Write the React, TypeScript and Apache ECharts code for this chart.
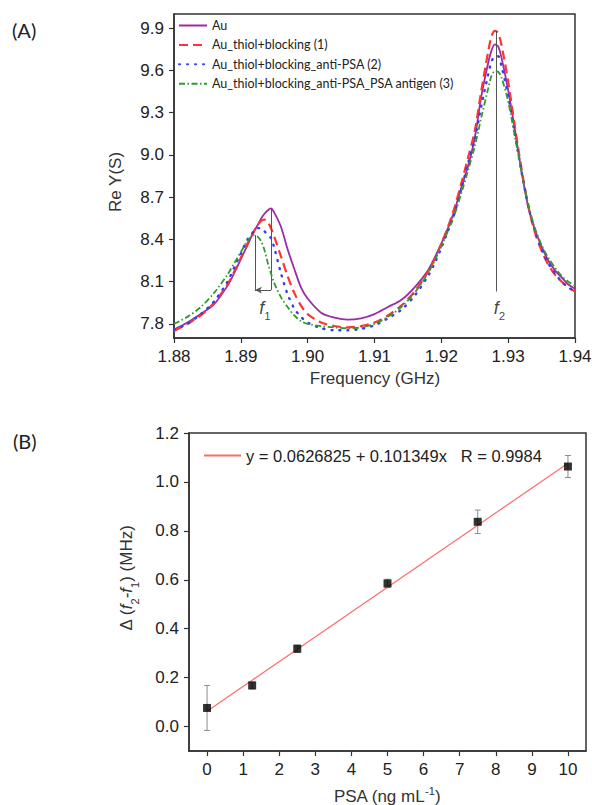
import React, { useEffect, useRef } from 'react';
import * as echarts from 'echarts';

// ---------- Panel (A) data ----------
const freqGHz = [
  1.88, 1.882, 1.884, 1.886, 1.888, 1.889, 1.89, 1.891, 1.892, 1.8925,
  1.893, 1.8935, 1.894, 1.8945, 1.895, 1.896, 1.897, 1.898, 1.899, 1.9,
  1.902, 1.904, 1.906, 1.908, 1.91, 1.912, 1.914, 1.916, 1.918, 1.919,
  1.92, 1.921, 1.922, 1.923, 1.924, 1.925, 1.926, 1.927, 1.9275, 1.928,
  1.9285, 1.929, 1.93, 1.931, 1.932, 1.933, 1.934, 1.935, 1.936, 1.937,
  1.938, 1.939, 1.94,
];
const auRe = [
  7.76, 7.81, 7.87, 7.94, 8.07, 8.16, 8.26, 8.36, 8.46, 8.5,
  8.545, 8.58, 8.605, 8.62, 8.59, 8.49, 8.33, 8.19, 8.06, 7.98,
  7.88, 7.845, 7.83, 7.84, 7.87, 7.92, 7.97, 8.06, 8.18, 8.27,
  8.37, 8.48, 8.61, 8.77, 8.92, 9.12, 9.42, 9.65, 9.74, 9.785,
  9.77, 9.69, 9.46, 9.18, 8.88, 8.63, 8.47, 8.35, 8.25, 8.18,
  8.13, 8.08, 8.05,
];
const thiolRe = [
  7.75, 7.8, 7.86, 7.95, 8.08, 8.17, 8.27, 8.37, 8.46, 8.5,
  8.53, 8.54, 8.525, 8.48, 8.42, 8.28, 8.14, 8.02, 7.93, 7.87,
  7.81, 7.785, 7.775, 7.785, 7.81, 7.86, 7.93, 8.03, 8.17, 8.26,
  8.37, 8.49, 8.63, 8.8, 8.98, 9.17, 9.46, 9.73, 9.84, 9.88,
  9.865, 9.78, 9.52, 9.2, 8.9, 8.64, 8.45, 8.32, 8.22, 8.15,
  8.1, 8.06, 8.03,
];
const antiPsaRe = [
  7.76, 7.8, 7.87, 7.96, 8.1, 8.2, 8.3, 8.4, 8.46, 8.48,
  8.48, 8.46, 8.43, 8.41, 8.34, 8.16, 8.01, 7.91, 7.85, 7.81,
  7.77, 7.755, 7.755, 7.765, 7.79, 7.84, 7.9, 8.0, 8.14, 8.23,
  8.34, 8.46, 8.59, 8.76, 8.94, 9.11, 9.35, 9.57, 9.66, 9.7,
  9.7, 9.63, 9.42, 9.15, 8.88, 8.64, 8.46, 8.33, 8.23, 8.16,
  8.1, 8.06, 8.03,
];
const antigenRe = [
  7.8, 7.85, 7.92, 8.02, 8.15, 8.23, 8.31, 8.39, 8.43, 8.42,
  8.39, 8.33, 8.24, 8.16, 8.09, 7.99, 7.92, 7.86, 7.82, 7.8,
  7.785, 7.775, 7.77, 7.775, 7.8, 7.85, 7.92, 8.02, 8.16, 8.25,
  8.35, 8.46, 8.58, 8.73, 8.89, 9.06, 9.27, 9.47, 9.56, 9.595,
  9.59, 9.55, 9.38, 9.13, 8.88, 8.65, 8.48, 8.36, 8.27, 8.2,
  8.14, 8.1, 8.07,
];
const seriesNamesA = [
  'Au',
  'Au_thiol+blocking (1)',
  'Au_thiol+blocking_anti-PSA (2)',
  'Au_thiol+blocking_anti-PSA_PSA antigen (3)',
];
const xTicksA = [1.88, 1.89, 1.9, 1.91, 1.92, 1.93, 1.94];
const yTicksA = [7.8, 8.1, 8.4, 8.7, 9.0, 9.3, 9.6, 9.9];
// annotation (peak markers)
const f1Left = 1.8921;
const f1Right = 1.8945;
const f1LeftTop = 8.43;
const f1RightTop = 8.62;
const bracketY = 8.04;
const f2Pos = 1.9282;
const f2Top = 9.88;
const f2Bottom = 8.03;
const peakLabels = [
  [1.8936, 7.898, '1'],
  [1.9287, 7.898, '2'],
];

// ---------- Panel (B) data ----------
const psaConc = [0, 1.25, 2.5, 5, 7.5, 10];
const deltaF = [0.076, 0.168, 0.318, 0.585, 0.837, 1.063];
const deltaErr = [0.092, 0.014, 0.015, 0.017, 0.048, 0.045];
const fitX = [0, 10];
const fitY = [0.0627, 1.0762];
const fitName = 'y = 0.0626825 + 0.101349x\u00a0\u00a0\u00a0R = 0.9984';
const xTicksB = [0, 1, 2, 3, 4, 5, 6, 7, 8, 9, 10];
const yTicksB = [0, 0.2, 0.4, 0.6, 0.8, 1.0, 1.2];

const zip = (xs: number[], ys: number[]) => xs.map((x, i) => [x, ys[i]]);

const SANS = '"Liberation Sans", Arial, sans-serif';
const AXIS_COLOR = '#333';
const TEXT_COLOR = '#222';
const NO_SYMBOL = { color: 'rgba(0,0,0,0)', borderColor: 'rgba(0,0,0,0)', borderWidth: 0 };

function valueAxis(gridIndex: number, min: number, max: number, ticks: number[], fmt: (v: number) => string) {
  return {
    gridIndex,
    type: 'value',
    min,
    max,
    axisLine: { show: true, onZero: false, lineStyle: { color: AXIS_COLOR, width: 1.5 } },
    axisTick: { show: true, inside: false, length: 5, customValues: ticks, lineStyle: { color: AXIS_COLOR, width: 1.2 } },
    axisLabel: { customValues: ticks, formatter: fmt, margin: 10, fontFamily: SANS, fontSize: 17, color: TEXT_COLOR },
    splitLine: { show: false },
  };
}

function buildOption() {
  const curveColors = ['#9a2ca6', '#ff3333', '#3340ee', '#2f9a2f'];
  const curveStyles: any[] = [
    { width: 1.8, type: 'solid' },
    { width: 2.2, type: [9, 5] },
    { width: 2.4, type: [1, 7], cap: 'round' },
    { width: 1.8, type: [6, 2.5, 1.5, 2.5] },
  ];
  const curveData = [auRe, thiolRe, antiPsaRe, antigenRe];

  const curveSeries = curveData.map((ys, i) => ({
    name: seriesNamesA[i],
    type: 'line',
    xAxisIndex: 0,
    yAxisIndex: 0,
    data: zip(freqGHz, ys),
    symbol: 'none',
    showSymbol: false,
    smooth: 0.3,
    z: 3 + i,
    lineStyle: { color: curveColors[i], ...curveStyles[i] },
    itemStyle: { color: curveColors[i] },
    emphasis: { disabled: true },
  }));

  const subRich = {
    f: { fontFamily: SANS, fontSize: 18, fontStyle: 'italic', color: '#111', verticalAlign: 'top', lineHeight: 18 },
    s: { fontFamily: SANS, fontSize: 11.5, color: '#111', verticalAlign: 'bottom', lineHeight: 23 },
  };

  const annotationSeries = {
    name: 'peaks',
    type: 'scatter',
    xAxisIndex: 0,
    yAxisIndex: 0,
    data: peakLabels.map((p) => ({ value: [p[0], p[1]], sub: p[2] })),
    symbolSize: 2,
    itemStyle: NO_SYMBOL,
    silent: true,
    z: 10,
    label: {
      show: true,
      position: 'inside',
      color: '#111',
      formatter: (p: any) => `{f|f}{s|${p.data.sub}}`,
      rich: subRich,
    },
    markLine: {
      silent: true,
      symbol: ['none', 'none'],
      label: { show: false },
      lineStyle: { color: '#555', width: 1, type: 'solid' },
      emphasis: { disabled: true },
      data: [
        [{ coord: [f1Left, f1LeftTop] }, { coord: [f1Left, bracketY] }],
        [{ coord: [f1Right, f1RightTop] }, { coord: [f1Right, bracketY] }],
        [{ coord: [f1Right, bracketY] }, { coord: [f1Left, bracketY], symbol: 'arrow', symbolSize: [5, 7] }],
        [{ coord: [f2Pos, f2Top] }, { coord: [f2Pos, f2Bottom] }],
      ],
    },
  };

  const fitSeries = {
    name: fitName,
    type: 'line',
    xAxisIndex: 1,
    yAxisIndex: 1,
    data: zip(fitX, fitY),
    symbol: 'none',
    showSymbol: false,
    z: 3,
    lineStyle: { color: '#ff6b6b', width: 1.2 },
    itemStyle: { color: '#ff6b6b' },
    emphasis: { disabled: true },
  };

  const errorSeries = {
    name: 'error',
    type: 'custom',
    xAxisIndex: 1,
    yAxisIndex: 1,
    data: psaConc.map((x, i) => [x, deltaF[i], deltaErr[i]]),
    encode: { x: 0, y: 1 },
    z: 2,
    silent: true,
    renderItem: (_params: any, api: any) => {
      const x = api.value(0);
      const y = api.value(1);
      const e = api.value(2);
      const hi = api.coord([x, y + e]);
      const lo = api.coord([x, y - e]);
      const w = 3;
      const style = { stroke: '#8c8c8c', lineWidth: 1 };
      return {
        type: 'group',
        children: [
          { type: 'line', shape: { x1: hi[0], y1: hi[1], x2: lo[0], y2: lo[1] }, style },
          { type: 'line', shape: { x1: hi[0] - w, y1: hi[1], x2: hi[0] + w, y2: hi[1] }, style },
          { type: 'line', shape: { x1: lo[0] - w, y1: lo[1], x2: lo[0] + w, y2: lo[1] }, style },
        ],
      };
    },
  };

  const pointSeries = {
    name: 'data',
    type: 'scatter',
    xAxisIndex: 1,
    yAxisIndex: 1,
    data: zip(psaConc, deltaF),
    symbol: 'rect',
    symbolSize: 8,
    z: 5,
    itemStyle: { color: '#000' },
    emphasis: { disabled: true },
  };

  const titleBase = { fontFamily: SANS, fontSize: 17, fill: '#333' };
  const richBase = {
    a: { fontFamily: SANS, fontSize: 17, fill: '#333', verticalAlign: 'top', lineHeight: 17 },
    i: { fontFamily: SANS, fontSize: 17, fontStyle: 'italic', fill: '#333', verticalAlign: 'top', lineHeight: 17 },
    s: { fontFamily: SANS, fontSize: 11, fill: '#333', verticalAlign: 'bottom', lineHeight: 22 },
  };

  return {
    animation: false,
    backgroundColor: '#ffffff',
    grid: [
      { left: 174, top: 14, width: 401, height: 324, show: true, borderColor: AXIS_COLOR, borderWidth: 1.5, containLabel: false, outerBoundsMode: 'none' },
      { left: 189, top: 433, width: 397, height: 318, show: true, borderColor: AXIS_COLOR, borderWidth: 1.5, containLabel: false, outerBoundsMode: 'none' },
    ],
    xAxis: [
      valueAxis(0, 1.88, 1.94, xTicksA, (v: number) => v.toFixed(2)),
      valueAxis(1, -0.5, 10.5, xTicksB, (v: number) => String(Math.round(v))),
    ],
    yAxis: [
      valueAxis(0, 7.7, 10.0, yTicksA, (v: number) => v.toFixed(1)),
      valueAxis(1, -0.1, 1.2, yTicksB, (v: number) => v.toFixed(1)),
    ],
    legend: [
      {
        data: seriesNamesA,
        orient: 'vertical',
        left: 178,
        top: 19,
        padding: 0,
        itemWidth: 28,
        itemHeight: 14,
        itemGap: 6.4,
        selectedMode: false,
        itemStyle: NO_SYMBOL,
        textStyle: { fontFamily: 'Lato, "Open Sans", sans-serif', fontSize: 12.5, color: TEXT_COLOR },
      },
      {
        data: [fitName],
        orient: 'horizontal',
        left: 203,
        top: 447,
        padding: 0,
        itemWidth: 37,
        itemHeight: 16,
        selectedMode: false,
        itemStyle: NO_SYMBOL,
        textStyle: { fontFamily: SANS, fontSize: 16.5, color: TEXT_COLOR },
      },
    ],
    graphic: [
      { type: 'text', x: 12, y: 30, silent: true, style: { text: '(A)', fontFamily: 'Lato, sans-serif', fontSize: 20, fill: TEXT_COLOR, align: 'left', verticalAlign: 'middle' } },
      { type: 'text', x: 13, y: 441, silent: true, style: { text: '(B)', fontFamily: 'Lato, sans-serif', fontSize: 20, fill: TEXT_COLOR, align: 'left', verticalAlign: 'middle' } },
      { type: 'text', x: 115, y: 182, rotation: Math.PI / 2, silent: true, style: { text: 'Re Y(S)', ...titleBase, align: 'center', verticalAlign: 'middle' } },
      { type: 'text', x: 375, y: 378, silent: true, style: { text: 'Frequency (GHz)', ...titleBase, align: 'center', verticalAlign: 'middle' } },
      {
        type: 'text', x: 129, y: 578, rotation: Math.PI / 2, silent: true,
        style: { text: '{a|\u0394 (}{i|f}{s|2}{a|-}{i|f}{s|1}{a|) (MHz)}', ...titleBase, align: 'center', verticalAlign: 'middle', rich: richBase },
      },
      {
        type: 'text', x: 387, y: 795, silent: true,
        style: {
          text: '{b|PSA (ng mL}{p|-1}{b|)}', ...titleBase, align: 'center', verticalAlign: 'middle',
          rich: {
            b: { fontFamily: SANS, fontSize: 17, fill: '#333', verticalAlign: 'bottom', lineHeight: 20 },
            p: { fontFamily: SANS, fontSize: 11, fill: '#333', verticalAlign: 'top', lineHeight: 11 },
          },
        },
      },
    ],
    series: [...curveSeries, annotationSeries, errorSeries, fitSeries, pointSeries],
  };
}

export default function App() {
  const ref = useRef<HTMLDivElement>(null);
  useEffect(() => {
    if (!ref.current) return;
    const chart = echarts.init(ref.current, null, { renderer: 'svg' });
    chart.setOption(buildOption() as any);
    return () => chart.dispose();
  }, []);
  return (
    <div
      ref={ref}
      style={{ position: 'fixed', left: 0, top: 0, width: 592, height: 805, background: '#fff' }}
    />
  );
}
